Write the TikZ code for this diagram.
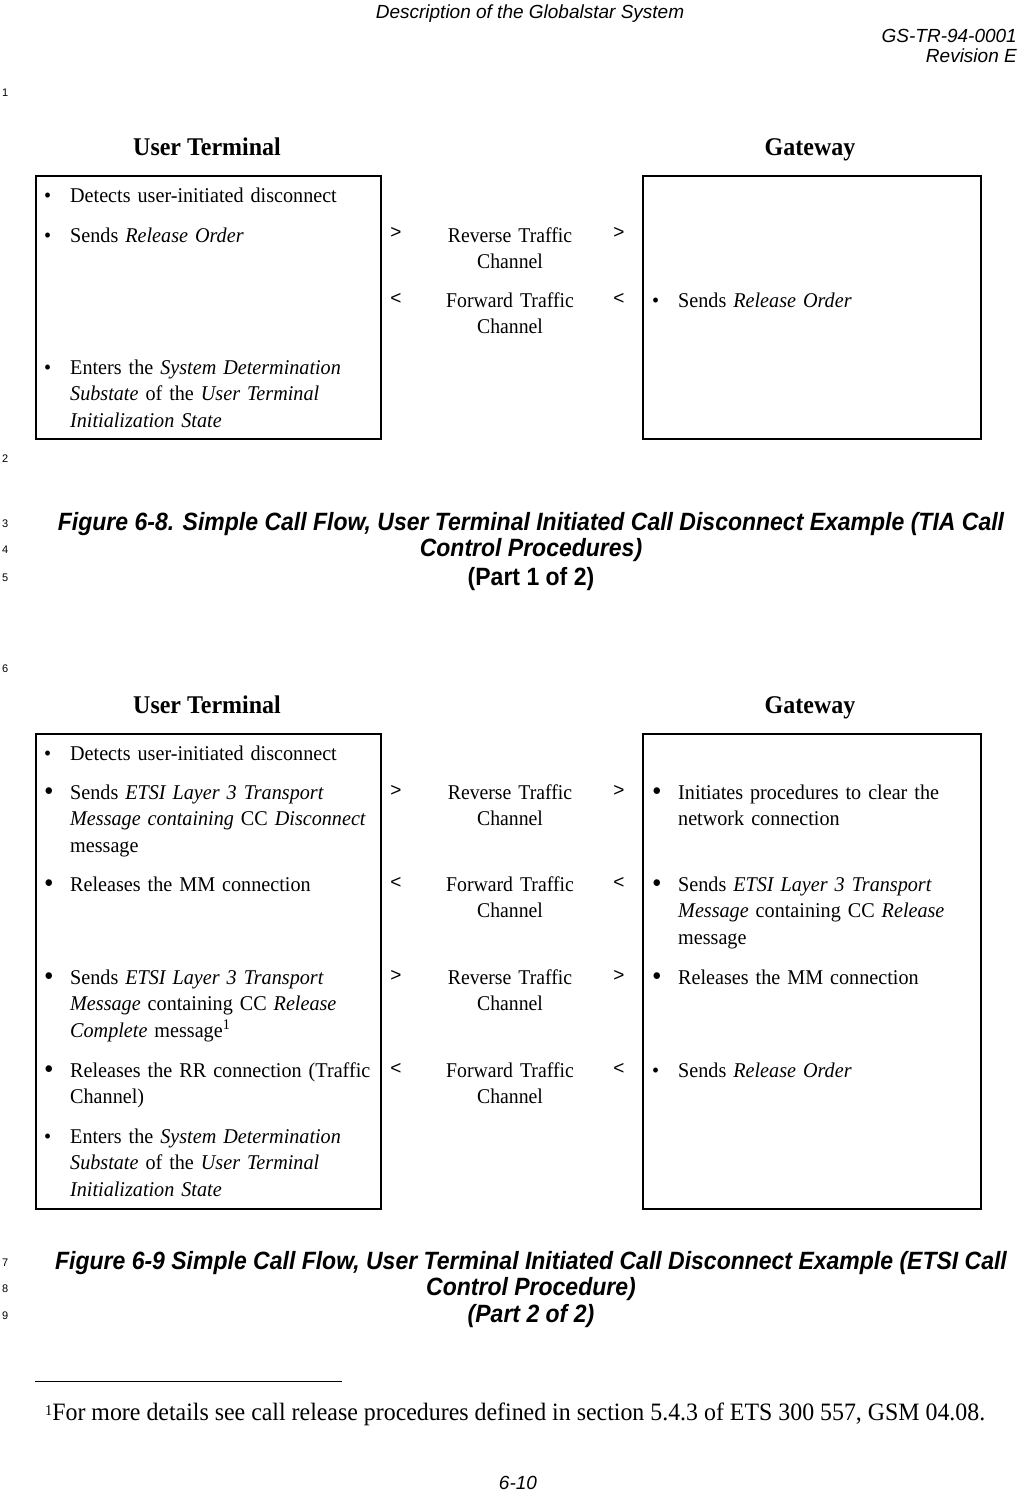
\documentclass[tikz,border=0pt]{standalone}
\usepackage{fontspec}
\usepackage{graphicx}
\setmainfont[FakeStretch=0.94]{Liberation Serif}
\newfontfamily\bodyserif[FakeStretch=0.96]{Liberation Serif}
\newfontfamily\fnserif[FakeStretch=0.955]{Liberation Serif}
\newfontfamily\hdsans{Liberation Sans}
\newfontfamily\capsans[FakeStretch=0.92]{Liberation Sans}
\newcommand\bl{\makebox[26pt][l]{\textbullet}}
\newcommand\blb{\makebox[26pt][l]{\raisebox{-1.2pt}{\scalebox{1.35}{\textbullet}}}}
\newcommand\ind{\hspace*{26pt}}
\tikzset{
  xbox/.style={draw, line width=1.8pt, inner sep=0pt, anchor=north west},
  xbody/.style={font=\bodyserif\fontsize{21}{26.5}\selectfont, inner sep=0pt, anchor=base west, text width=345pt, align=left},
  xmid/.style={font=\fontsize{21}{26.5}\selectfont, inner sep=0pt, anchor=base, text width=170pt, align=center},
  xarr/.style={font=\hdsans\fontsize{19}{20}\selectfont, inner sep=0pt, anchor=base},
  xhead/.style={font=\bfseries\fontsize{25.5}{28}\selectfont, inner sep=0pt, anchor=base},
  xcap/.style={font=\capsans\bfseries\itshape\fontsize{25}{28}\selectfont, inner sep=0pt, anchor=base},
  xlnum/.style={font=\hdsans\fontsize{11}{12}\selectfont, inner sep=0pt, anchor=base west},
  xpg/.style={font=\hdsans\itshape\fontsize{19}{22}\selectfont, inner sep=0pt},
}
\begin{document}
\begin{tikzpicture}[x=1pt, y=-1pt]
\useasboundingbox (0,0) rectangle (1019,1492);
% page header
\node[xpg, anchor=base] (hd) at (530,18) {Description of the Globalstar System};
\node[xpg, anchor=base east] (doc) at (1017,42) {GS-TR-94-0001};
\node[xpg, anchor=base east] (rev) at (1017,62) {Revision E};
% line numbers
\node[xlnum] (n1) at (2,96) {1};
\node[xlnum] (n2) at (2,462) {2};
\node[xlnum] (n3) at (2,527) {3};
\node[xlnum] (n4) at (2,553) {4};
\node[xlnum] (n5) at (2,581) {5};
\node[xlnum] (n6) at (2,672) {6};
\node[xlnum] (n7) at (2,1266) {7};
\node[xlnum] (n8) at (2,1292) {8};
\node[xlnum] (n9) at (2,1319) {9};

% ---------- Figure 6-8 ----------
\node[xhead] (ut1) at (207,155) {User Terminal};
\node[xhead] (gw1) at (810,155) {Gateway};
\node[xbox, minimum width=345pt, minimum height=263pt] (utbox1) at (35,175) {};
\node[xbox, minimum width=338pt, minimum height=263pt] (gwbox1) at (642,175) {};

\node[xbody] (u1a) at (44,202) {\bl Detects user-initiated disconnect};
\node[xbody] (u1b) at (44,242) {\bl Sends \textit{Release Order}};
\node[xbody] (u1c) at (44,374) {\bl Enters the \textit{System Determination}\\\ind\textit{Substate} of the \textit{User Terminal}\\\ind\textit{Initialization State}};

\node[xarr] (a1l) at (396,238) {>};
\node[xarr] (a1r) at (619,238) {>};
\node[xmid] (m1a) at (510,242) {Reverse Traffic\\Channel};
\node[xarr] (a2l) at (396,304) {<};
\node[xarr] (a2r) at (619,304) {<};
\node[xmid] (m1b) at (510,307) {Forward Traffic\\Channel};

\node[xbody, text width=330pt] (g1a) at (652,307) {\bl Sends \textit{Release Order}};

\node[xcap] (c1a) at (531,530) {Figure 6-8. Simple Call Flow, User Terminal Initiated Call Disconnect Example (TIA Call};
\node[xcap] (c1b) at (531,556) {Control Procedures)};
\node[xcap, font=\capsans\bfseries\fontsize{25}{28}\selectfont] (c1c) at (531,585) {(Part 1 of 2)};

% ---------- Figure 6-9 ----------
\node[xhead] (ut2) at (207,713) {User Terminal};
\node[xhead] (gw2) at (810,713) {Gateway};
\node[xbox, minimum width=345pt, minimum height=475pt] (utbox2) at (35,733) {};
\node[xbox, minimum width=338pt, minimum height=475pt] (gwbox2) at (642,733) {};

\node[xbody] (u2a) at (44,760) {\bl Detects user-initiated disconnect};
\node[xbody] (u2b) at (44,799) {\blb Sends \textit{ETSI Layer 3 Transport}\\\ind\textit{Message containing} CC \textit{Disconnect}\\\ind message};
\node[xbody] (u2c) at (44,891) {\blb Releases the MM connection};
\node[xbody] (u2d) at (44,984) {\blb Sends \textit{ETSI Layer 3 Transport}\\\ind\textit{Message} containing CC \textit{Release}\\\ind\textit{Complete} message\textsuperscript{1}};
\node[xbody] (u2e) at (44,1077) {\blb Releases the RR connection (Traffic\\\ind Channel)};
\node[xbody] (u2f) at (44,1143) {\bl Enters the \textit{System Determination}\\\ind\textit{Substate} of the \textit{User Terminal}\\\ind\textit{Initialization State}};

\node[xarr] (b1l) at (396,796) {>};
\node[xarr] (b1r) at (619,796) {>};
\node[xmid] (m2a) at (510,799) {Reverse Traffic\\Channel};
\node[xarr] (b2l) at (396,888) {<};
\node[xarr] (b2r) at (619,888) {<};
\node[xmid] (m2b) at (510,891) {Forward Traffic\\Channel};
\node[xarr] (b3l) at (396,981) {>};
\node[xarr] (b3r) at (619,981) {>};
\node[xmid] (m2c) at (510,984) {Reverse Traffic\\Channel};
\node[xarr] (b4l) at (396,1074) {<};
\node[xarr] (b4r) at (619,1074) {<};
\node[xmid] (m2d) at (510,1077) {Forward Traffic\\Channel};

\node[xbody, text width=330pt] (g2a) at (652,799) {\blb Initiates procedures to clear the\\\ind network connection};
\node[xbody, text width=330pt] (g2b) at (652,891) {\blb Sends \textit{ETSI Layer 3 Transport}\\\ind\textit{Message} containing CC \textit{Release}\\\ind message};
\node[xbody, text width=330pt] (g2c) at (652,984) {\blb Releases the MM connection};
\node[xbody, text width=330pt] (g2d) at (652,1077) {\bl Sends \textit{Release Order}};

\node[xcap] (c2a) at (531,1269) {Figure 6-9 Simple Call Flow, User Terminal Initiated Call Disconnect Example (ETSI Call};
\node[xcap] (c2b) at (531,1295) {Control Procedure)};
\node[xcap] (c2c) at (531,1322) {(Part 2 of 2)};

% ---------- footnote ----------
\coordinate (fnl) at (35,1381);
\coordinate (fnr) at (342,1381);
\draw[line width=1pt] (fnl) -- (fnr);
\node[font=\fnserif\fontsize{25}{28}\selectfont, inner sep=0pt, anchor=base west] (fn) at (45,1420) {\raisebox{5pt}{\fontsize{15}{15}\selectfont 1}For more details see call release procedures defined in section 5.4.3 of ETS 300 557, GSM 04.08.};
\node[xpg, anchor=base] (pg) at (518,1489) {6-10};
\end{tikzpicture}
\end{document}
